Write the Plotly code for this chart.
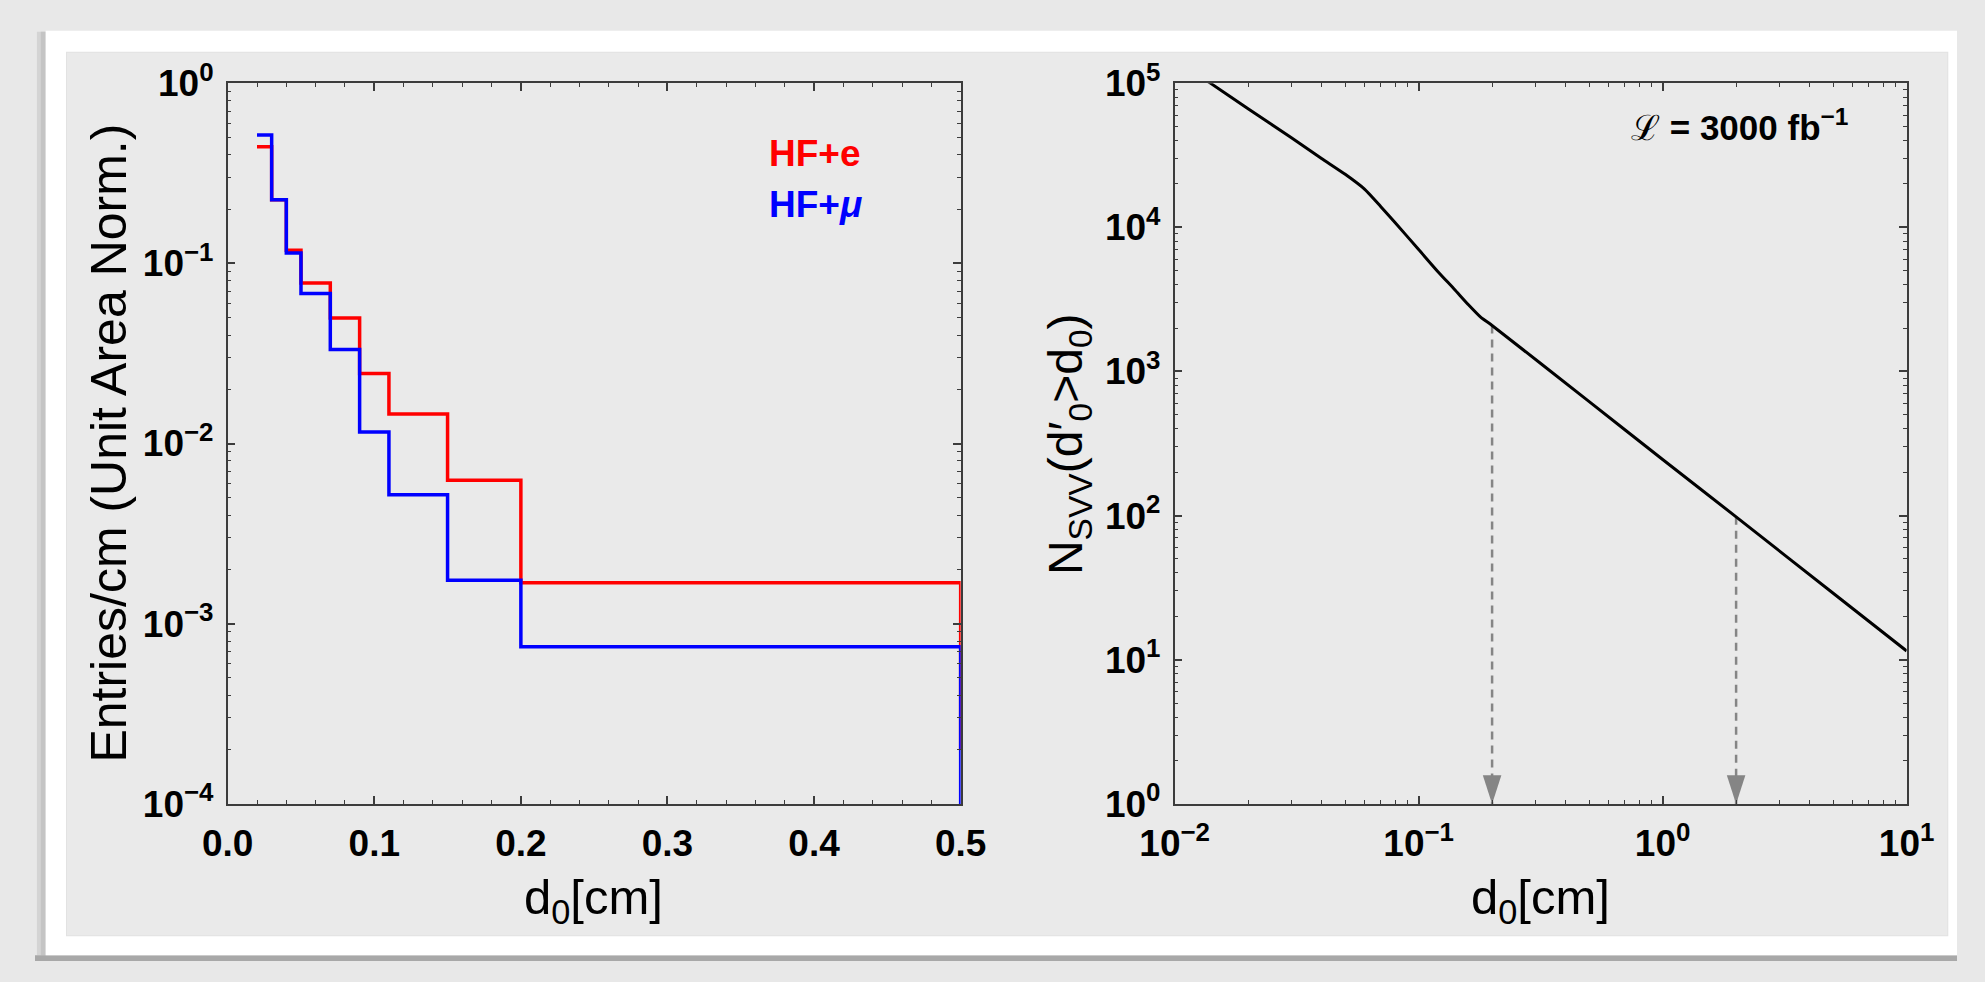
import math
import plotly.graph_objects as go

W, H = 1985, 982

# ---------------- data: left panel (histograms) ----------------
bin_edges = [0.02, 0.03, 0.04, 0.05, 0.07, 0.09, 0.11, 0.15, 0.20, 0.50]
hf_e = [0.444, 0.225, 0.118, 0.0778, 0.0498, 0.0245, 0.0146, 0.00625, 0.00169]
hf_mu = [0.516, 0.225, 0.114, 0.068, 0.0332, 0.01157, 0.00519, 0.00174, 0.000744]
hf_e_floor = 2.0e-4
hf_mu_floor = 1.0e-4
left_xticks = [0.0, 0.1, 0.2, 0.3, 0.4, 0.5]
left_xticktext = ["0.0", "0.1", "0.2", "0.3", "0.4", "0.5"]
left_yticks = [1e-4, 1e-3, 1e-2, 1e-1, 1]
left_yticktext = ["10<sup>\u22124</sup>", "10<sup>\u22123</sup>", "10<sup>\u22122</sup>",
                  "10<sup>\u22121</sup>", "10<sup>0</sup>"]

# ---------------- data: right panel (cumulative count) ----------------
d0 = [0.01, 0.014, 0.02, 0.03, 0.04, 0.05, 0.06, 0.07, 0.08, 0.10, 0.12, 0.14,
      0.16, 0.18, 0.20, 0.5, 1.0, 2.0, 5.0, 10.0]
n_svv = [147000, 100000, 66400, 41900, 30000, 23300, 18400, 13900, 10800, 7010,
         4920, 3720, 2900, 2370, 2085, 617, 245, 98, 28.9, 11.5]
cut_d0 = [0.2, 2.0]
cut_n = [2085, 98]
arrow_base = 1
right_xticks = [0.01, 0.1, 1, 10]
right_xticktext = ["10<sup>\u22122</sup>", "10<sup>\u22121</sup>", "10<sup>0</sup>", "10<sup>1</sup>"]
right_yticks = [1, 10, 100, 1000, 10000, 100000]
right_yticktext = ["10<sup>0</sup>", "10<sup>1</sup>", "10<sup>2</sup>", "10<sup>3</sup>",
                   "10<sup>4</sup>", "10<sup>5</sup>"]


def px(x):
    return x / W


def py(y):
    return 1 - y / H


def step_xy(edges, vals, floor):
    xs = list(edges[:-1]) + [edges[-1], edges[-1]]
    ys = list(vals) + [vals[-1], floor]
    return xs, ys


def log_minor(lo, hi):
    out = []
    for k in range(lo, hi):
        for m in range(2, 10):
            out.append(m * 10 ** k)
    return out


FONT = "Liberation Sans, Arial, Helvetica, sans-serif"
AXC = "#3c3c3c"
PANEL = "#eaeaea"

fig = go.Figure()

xe, ye = step_xy(bin_edges, hf_e, hf_e_floor)
xm, ym = step_xy(bin_edges, hf_mu, hf_mu_floor)
fig.add_trace(go.Scatter(x=xe, y=ye, mode="lines", line=dict(color="#ff0000", width=3.5, shape="hv"),
                         xaxis="x", yaxis="y", showlegend=False, hoverinfo="skip"))
fig.add_trace(go.Scatter(x=xm, y=ym, mode="lines", line=dict(color="#0000ff", width=3.5, shape="hv"),
                         xaxis="x", yaxis="y", showlegend=False, hoverinfo="skip"))

# right panel
for xc, yc in zip(cut_d0, cut_n):
    fig.add_trace(go.Scatter(x=[xc, xc], y=[yc, arrow_base], mode="lines",
                             line=dict(color="#858585", width=2.5, dash="8px,6px"),
                             xaxis="x2", yaxis="y2", showlegend=False, hoverinfo="skip"))
fig.add_trace(go.Scatter(x=cut_d0, y=[arrow_base] * len(cut_d0), mode="markers",
                         marker=dict(symbol="arrow", angle=180, size=30, color="#858585",
                                     line=dict(width=0)),
                         cliponaxis=False, xaxis="x2", yaxis="y2", showlegend=False, hoverinfo="skip"))
fig.add_trace(go.Scatter(x=d0, y=n_svv, mode="lines",
                         line=dict(color="black", width=3, shape="spline", smoothing=0.6),
                         xaxis="x2", yaxis="y2", showlegend=False, hoverinfo="skip"))

axis_common = dict(showline=True, linecolor=AXC, linewidth=1.5, mirror="allticks",
                   ticks="inside", tickcolor=AXC, tickwidth=1.5, ticklen=8,
                   showgrid=False, zeroline=False,
                   tickfont=dict(family=FONT, size=37, color="black", weight="bold"),
                   tickmode="array")

fig.update_layout(
    width=W, height=H,
    margin=dict(l=0, r=0, t=0, b=0),
    paper_bgcolor="#e8e8e8",
    plot_bgcolor="rgba(0,0,0,0)",
    xaxis=dict(domain=[px(199), px(956)], range=[0, 0.5], anchor="y",
               tickvals=left_xticks, ticktext=left_xticktext, ticklabelstandoff=6,
               minor=dict(ticks="inside", ticklen=4, tickcolor=AXC, tickwidth=1.2, dtick=0.02, tick0=0),
               **axis_common),
    yaxis=dict(domain=[py(817), py(60)], type="log", range=[-4, 0], anchor="x",
               tickvals=left_yticks, ticktext=left_yticktext, ticklabelstandoff=5,
               minor=dict(ticks="inside", ticklen=4, tickcolor=AXC, tickwidth=1.2,
                          tickmode="array", tickvals=log_minor(-4, 0)),
               **axis_common),
    xaxis2=dict(domain=[px(1177), px(1933)], type="log", range=[-2, 1], anchor="y2",
                tickvals=right_xticks, ticktext=right_xticktext, ticklabelstandoff=6,
                minor=dict(ticks="inside", ticklen=4, tickcolor=AXC, tickwidth=1.2,
                           tickmode="array", tickvals=log_minor(-2, 1)),
                **axis_common),
    yaxis2=dict(domain=[py(817), py(60)], type="log", range=[0, 5], anchor="x2",
                tickvals=right_yticks, ticktext=right_yticktext, ticklabelstandoff=5,
                minor=dict(ticks="inside", ticklen=4, tickcolor=AXC, tickwidth=1.2,
                           tickmode="array", tickvals=log_minor(0, 5)),
                **axis_common),
)

# frame / panel decoration
shapes = [
    dict(type="rect", xref="paper", yref="paper", x0=px(2), x1=px(13), y0=py(976), y1=py(6),
         fillcolor="#d4d4d4", line=dict(width=0), layer="below"),
    dict(type="rect", xref="paper", yref="paper", x0=px(6), x1=px(11), y0=py(976), y1=py(6),
         fillcolor="#c4c4c4", line=dict(width=0), layer="below"),
    dict(type="rect", xref="paper", yref="paper", x0=px(0), x1=px(1985), y0=py(982), y1=py(976),
         fillcolor="#a8a8a8", line=dict(width=0), layer="below"),
    dict(type="rect", xref="paper", yref="paper", x0=px(11), x1=px(1985), y0=py(976), y1=py(5),
         fillcolor="#ffffff", line=dict(width=0), layer="below"),
    dict(type="rect", xref="paper", yref="paper", x0=px(32), x1=px(1976), y0=py(956), y1=py(27),
         fillcolor="#e2e2e2", line=dict(width=0), layer="below"),
    dict(type="rect", xref="paper", yref="paper", x0=px(33), x1=px(1975), y0=py(955), y1=py(28),
         fillcolor=PANEL, line=dict(width=0), layer="below"),
]
fig.update_layout(shapes=shapes)

ann = []
# axis titles
ann.append(dict(text="Entries/cm (Unit Area Norm.)", x=px(76), y=py(438), xref="paper", yref="paper",
                textangle=-90, showarrow=False, xanchor="center", yanchor="middle",
                font=dict(family=FONT, size=50, color="black")))
ann.append(dict(text="N<sub>SVV</sub>(d\u2032<sub>0</sub>&gt;d<sub>0</sub>)", x=px(1068), y=py(439),
                xref="paper", yref="paper", textangle=-90, showarrow=False, xanchor="center", yanchor="middle",
                font=dict(family=FONT, size=48, color="black")))
ann.append(dict(text="d<sub>0</sub>[cm]", x=px(577), y=py(918), xref="paper", yref="paper",
                showarrow=False, xanchor="center", yanchor="middle",
                font=dict(family=FONT, size=49, color="black")))
ann.append(dict(text="d<sub>0</sub>[cm]", x=px(1555), y=py(918), xref="paper", yref="paper",
                showarrow=False, xanchor="center", yanchor="middle",
                font=dict(family=FONT, size=49, color="black")))
# legend texts
ann.append(dict(text="<b>HF+e</b>", x=px(756), y=py(134), xref="paper", yref="paper",
                showarrow=False, xanchor="left", yanchor="middle",
                font=dict(family=FONT, size=37, color="#ff0000")))
ann.append(dict(text="<b>HF+<i>\u03bc</i></b>", x=px(756), y=py(187), xref="paper", yref="paper",
                showarrow=False, xanchor="left", yanchor="middle",
                font=dict(family=FONT, size=37, color="#0000ff")))
# luminosity label
ann.append(dict(text="\u2112 <b>= 3000 fb<sup>\u22121</sup></b>", x=px(1875), y=py(104), xref="paper", yref="paper",
                showarrow=False, xanchor="right", yanchor="middle",
                font=dict(family=FONT, size=35, color="black")))
fig.update_layout(annotations=ann)

fig.write_html("out.html", config={"displayModeBar": False},
               post_script="document.body.style.margin='0';")
